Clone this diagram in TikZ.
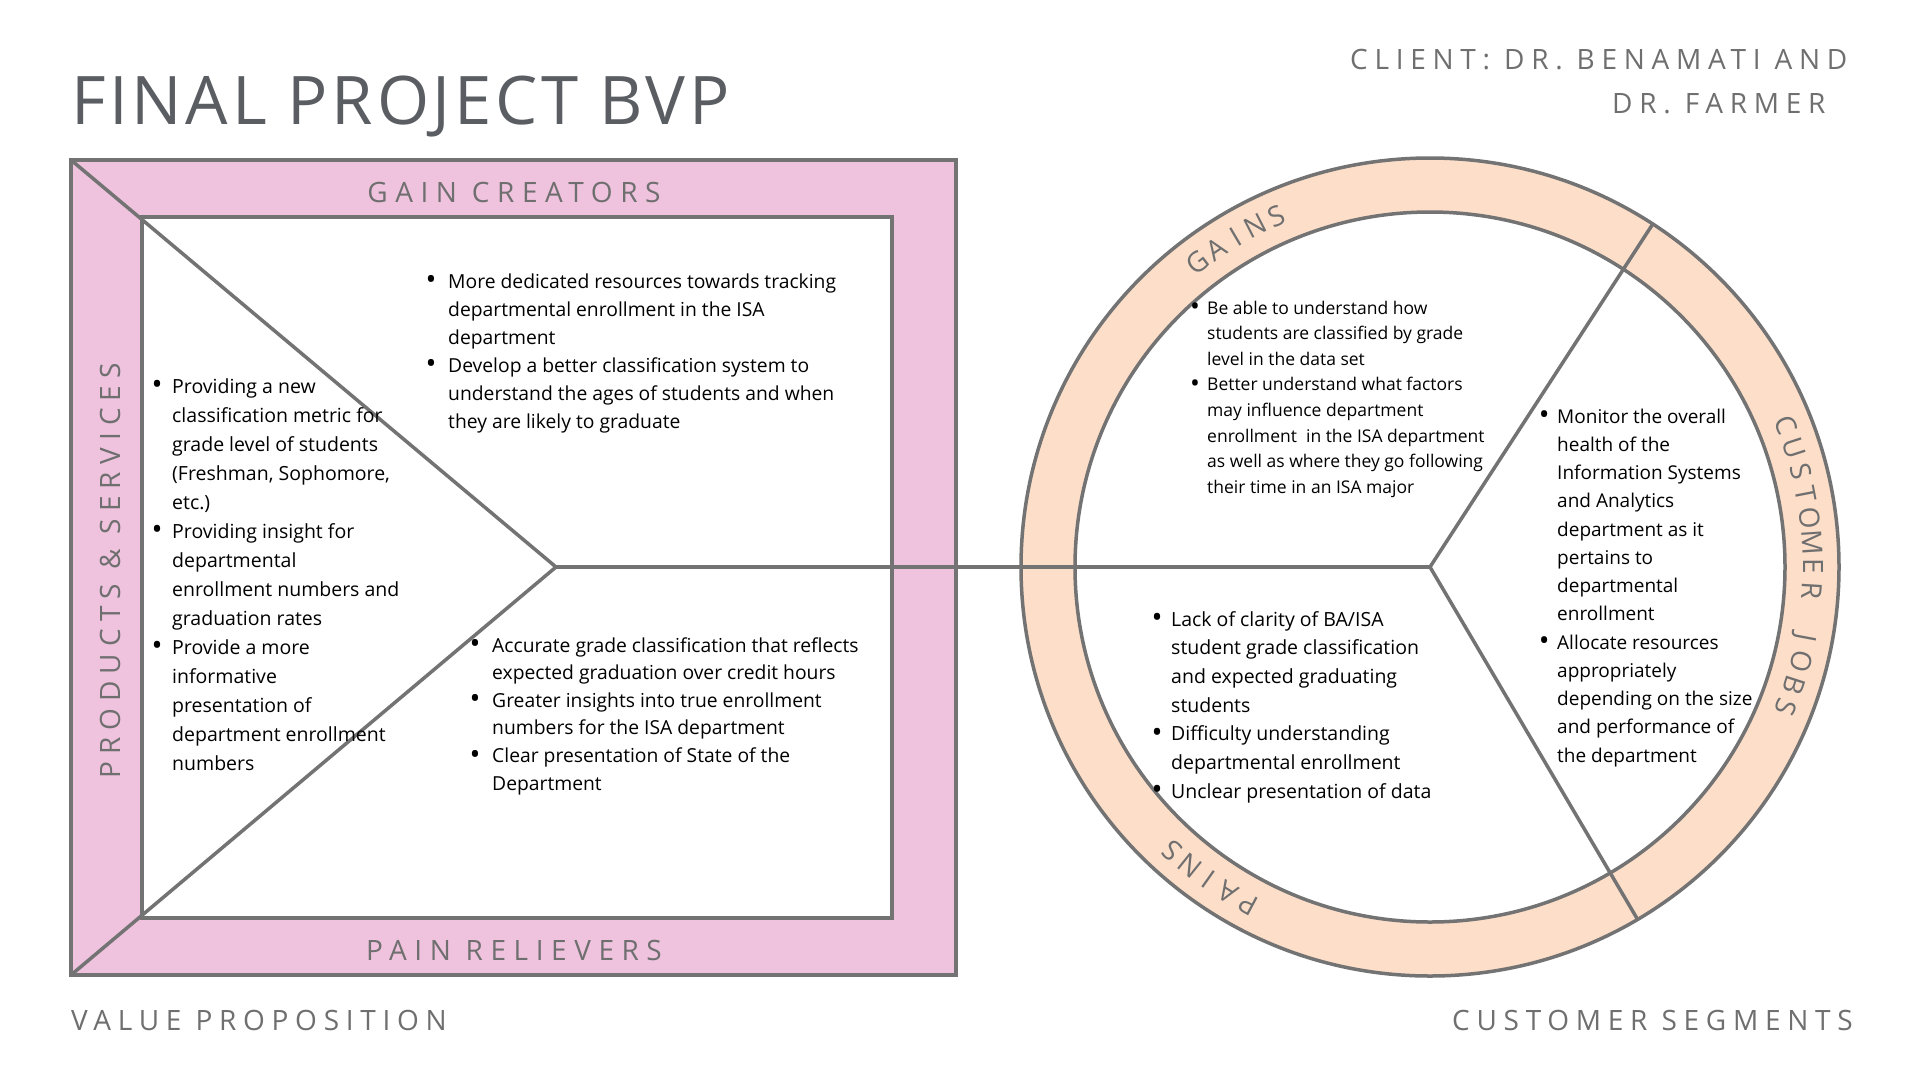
\documentclass[tikz,border=0pt]{standalone}
\usepackage{fontspec}
\setmainfont{Open Sans}
\newfontfamily\trackfont{Open Sans}[LetterSpace=24]
\newfontfamily\bandfont{Open Sans}[LetterSpace=27]
\newfontfamily\sidefont{Open Sans}[LetterSpace=25.5]
\newfontfamily\titlefont{Open Sans}[LetterSpace=5.5]
\definecolor{pinkband}{HTML}{EFC3DE}
\definecolor{peach}{HTML}{FDDEC9}
\definecolor{linegray}{HTML}{737373}
\definecolor{lblgray}{HTML}{6F6F6F}
\definecolor{titlegray}{HTML}{5A5E63}
\newlength\bulw
\newcommand\bu{\makebox[\bulw][l]{\raisebox{-0.09em}{\scalebox{1.5}{\textbullet}}}}
\newcommand\ind{\hspace*{\bulw}}
\begin{document}
\begin{tikzpicture}[x=1pt,y=-1pt,
  frame/.style={draw=linegray, line width=3.5pt},
  trk/.style={font=\trackfont\fontsize{28}{34}\selectfont, text=lblgray, inner sep=0pt},
  band/.style={font=\bandfont\fontsize{28}{34}\selectfont, text=lblgray, inner sep=0pt},
  ringch/.style={font=\fontsize{28}{34}\selectfont, text=lblgray, inner sep=0pt, anchor=base},
  listtxt/.style={inner sep=0pt, anchor=base west, text=black}]
\useasboundingbox (0,0) rectangle (1920,1080);
\fill[white] (0,0) rectangle (1920,1080);

\coordinate (otl) at (71,160);
\coordinate (obr) at (956,975);
\coordinate (obl) at (71,975);
\coordinate (itl) at (142,217);
\coordinate (ibr) at (892,918);
\coordinate (apex) at (556,567);
\coordinate (cc) at (1430,567);

% value proposition square
\draw[frame, fill=pinkband] (otl) rectangle (obr);
\draw[frame, fill=white] (itl) rectangle (ibr);
\draw[frame, line join=miter] (otl) -- (apex) -- (obl);

% customer circle
\draw[frame, fill=peach] (cc) circle[radius=409];
\draw[frame, fill=white] (cc) circle[radius=355];
\draw[frame] (apex) -- (cc);
\draw[frame] (cc) -- ++(-57:409) coordinate (sp1);
\draw[frame] (cc) -- ++(59.5:409) coordinate (sp2);

% ring labels
\foreach \ch [count=\i from 0] in {G,A,I,N,S} {
  \pgfmathsetmacro\a{127.4-3.43*\i}
  \node[ringch, rotate=\a-90] (gains\i) at ([shift={(-\a:373)}]cc) {\ch};
}
\foreach \i/\ch in {0/C,1/U,2/S,3/T,4/O,5/M,6/E,7/R,9/J,10/O,11/B,12/S} {
  \pgfmathsetmacro\a{21.7-3.6*\i}
  \node[ringch, rotate=\a-90] (jobs\i) at ([shift={(-\a:373)}]cc) {\ch};
}
\foreach \ch [count=\i from 0] in {P,A,I,N,S} {
  \pgfmathsetmacro\a{241.7-3.5*\i}
  \node[ringch, rotate=\a-90] (pains\i) at ([shift={(-\a:373)}]cc) {\ch};
}

% headings
\node[font=\titlefont\fontsize{67}{80}\selectfont, text=titlegray, anchor=base west, inner sep=0pt] (title) at (71,124) {FINAL PROJECT BVP};
\node[trk, anchor=base west] (client1) at (1350,69) {CLIENT: DR. BENAMATI AND};
\node[trk, anchor=base west] (client2) at (1612,113) {DR. FARMER};
\node[trk, anchor=base west] (vp) at (71,1030) {VALUE PROPOSITION};
\node[trk, anchor=base west] (cs) at (1452,1030) {CUSTOMER SEGMENTS};
\node[band, anchor=base] (gc) at (514,202) {GAIN CREATORS};
\node[band, anchor=base] (pr) at (514,960) {PAIN RELIEVERS};
\node[font=\sidefont\fontsize{28}{34}\selectfont, text=lblgray, inner sep=0pt, anchor=base, rotate=90] (ps) at (120,571) {PRODUCTS \& SERVICES};

% lists
\node[listtxt] (pslist) at (151.5,393) {\setlength\bulw{20.5pt}\fontsize{19.5}{29}\selectfont
\begin{tabular}[t]{@{}l@{}}
\bu Providing a new\\
\ind classification metric for\\
\ind grade level of students\\
\ind (Freshman, Sophomore,\\
\ind etc.)\\
\bu Providing insight for\\
\ind departmental\\
\ind enrollment numbers and\\
\ind graduation rates\\
\bu Provide a more\\
\ind informative\\
\ind presentation of\\
\ind department enrollment\\
\ind numbers
\end{tabular}};

\node[listtxt] (gclist) at (425.5,288) {\setlength\bulw{22.5pt}\fontsize{19.3}{28}\selectfont
\begin{tabular}[t]{@{}l@{}}
\bu More dedicated resources towards tracking\\
\ind departmental enrollment in the ISA\\
\ind department\\
\bu Develop a better classification system to\\
\ind understand the ages of students and when\\
\ind they are likely to graduate
\end{tabular}};

\node[listtxt] (prlist) at (469.5,652) {\setlength\bulw{22.5pt}\fontsize{19.3}{27.6}\selectfont
\begin{tabular}[t]{@{}l@{}}
\bu Accurate grade classification that reflects\\
\ind expected graduation over credit hours\\
\bu Greater insights into true enrollment\\
\ind numbers for the ISA department\\
\bu Clear presentation of State of the\\
\ind Department
\end{tabular}};

\node[listtxt] (gnlist) at (1189.8,314) {\setlength\bulw{17.2pt}\fontsize{17.5}{25.6}\selectfont
\begin{tabular}[t]{@{}l@{}}
\bu Be able to understand how\\
\ind students are classified by grade\\
\ind level in the data set\\
\bu Better understand what factors\\
\ind may influence department\\
\ind enrollment\ \ in the ISA department\\
\ind as well as where they go following\\
\ind their time in an ISA major
\end{tabular}};

\node[listtxt] (cjlist) at (1538.6,423) {\setlength\bulw{18.4pt}\fontsize{19}{28.25}\selectfont
\begin{tabular}[t]{@{}l@{}}
\bu Monitor the overall\\
\ind health of the\\
\ind Information Systems\\
\ind and Analytics\\
\ind department as it\\
\ind pertains to\\
\ind departmental\\
\ind enrollment\\
\bu Allocate resources\\
\ind appropriately\\
\ind depending on the size\\
\ind and performance of\\
\ind the department
\end{tabular}};

\node[listtxt] (pnlist) at (1151.5,626) {\setlength\bulw{19.5pt}\fontsize{19.5}{28.7}\selectfont
\begin{tabular}[t]{@{}l@{}}
\bu Lack of clarity of BA/ISA\\
\ind student grade classification\\
\ind and expected graduating\\
\ind students\\
\bu Difficulty understanding\\
\ind departmental enrollment\\
\bu Unclear presentation of data
\end{tabular}};
\end{tikzpicture}
\end{document}
